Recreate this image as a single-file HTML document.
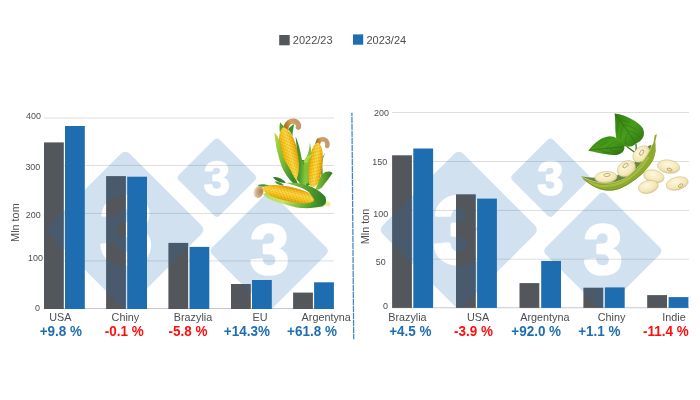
<!DOCTYPE html>
<html lang="pl">
<head>
<meta charset="utf-8">
<title>Kukurydza i soja 2022/23 - 2023/24</title>
<style>
html,body{margin:0;padding:0;background:#fff;}
body{width:700px;height:400px;overflow:hidden;}
svg{display:block;font-family:"Liberation Sans",Arial,sans-serif;}
</style>
</head>
<body>
<svg width="700" height="400" viewBox="0 0 700 400">
<defs>
<mask id="wmL" maskUnits="userSpaceOnUse" x="0" y="0" width="700" height="400">
<rect x="68.38" y="172.88" width="113.84" height="113.84" rx="6" transform="rotate(45 125.30 229.80)" fill="#fff"/>
<text x="126.30" y="263.40" font-size="95.4" font-weight="bold" text-anchor="middle" fill="#000" stroke="#000" stroke-width="3.55" stroke-linejoin="round">3</text>
<rect x="188.12" y="148.92" width="57.56" height="57.56" rx="4" transform="rotate(45 216.90 177.70)" fill="#fff"/>
<text x="216.90" y="194.63" font-size="47.2" font-weight="bold" text-anchor="middle" fill="#000" stroke="#000" stroke-width="1.75" stroke-linejoin="round">3</text>
<rect x="226.45" y="208.15" width="85.70" height="85.70" rx="5" transform="rotate(45 269.30 251.00)" fill="#fff"/>
<text x="269.60" y="273.73" font-size="70.3" font-weight="bold" text-anchor="middle" fill="#000" stroke="#000" stroke-width="2.61" stroke-linejoin="round">3</text>
</mask>
<mask id="wmR" maskUnits="userSpaceOnUse" x="0" y="0" width="700" height="400">
<rect x="401.88" y="172.88" width="113.84" height="113.84" rx="6" transform="rotate(45 458.80 229.80)" fill="#fff"/>
<text x="459.80" y="263.40" font-size="95.4" font-weight="bold" text-anchor="middle" fill="#000" stroke="#000" stroke-width="3.55" stroke-linejoin="round">3</text>
<rect x="521.62" y="148.92" width="57.56" height="57.56" rx="4" transform="rotate(45 550.40 177.70)" fill="#fff"/>
<text x="550.40" y="194.63" font-size="47.2" font-weight="bold" text-anchor="middle" fill="#000" stroke="#000" stroke-width="1.75" stroke-linejoin="round">3</text>
<rect x="559.95" y="208.15" width="85.70" height="85.70" rx="5" transform="rotate(45 602.80 251.00)" fill="#fff"/>
<text x="603.10" y="273.73" font-size="70.3" font-weight="bold" text-anchor="middle" fill="#000" stroke="#000" stroke-width="2.61" stroke-linejoin="round">3</text>
</mask>
</defs>
<rect width="700" height="400" fill="#fff"/>

<!-- legend -->
<rect x="279.2" y="35" width="10.5" height="10.3" fill="#53565a"/>
<text x="292.8" y="44" font-size="11" fill="#4b4d50">2022/23</text>
<rect x="353" y="34.4" width="10.2" height="10.3" fill="#1f6db1"/>
<text x="366.4" y="44" font-size="11" fill="#4b4d50">2023/24</text>

<!-- left chart gridlines -->
<g stroke="#dedede" stroke-width="1">
<line x1="44" x2="334" y1="118" y2="118"/>
<line x1="44" x2="334" y1="165.45" y2="165.45"/>
<line x1="44" x2="334" y1="213.45" y2="213.45"/>
<line x1="44" x2="334" y1="260.9" y2="260.9"/>
<line x1="44" x2="334" y1="308.5" y2="308.5" stroke="#c6c8ca"/>
</g>
<!-- right chart gridlines -->
<g stroke="#dedede" stroke-width="1">
<line x1="392" x2="689" y1="112.5" y2="112.5"/>
<line x1="392" x2="689" y1="161.5" y2="161.5"/>
<line x1="392" x2="689" y1="210.45" y2="210.45"/>
<line x1="392" x2="689" y1="259.2" y2="259.2"/>
<line x1="392" x2="689" y1="307.75" y2="307.75" stroke="#c6c8ca"/>
</g>

<!-- bars -->
<rect x="44.0" y="142.4" width="19.8" height="166.6" fill="#53565a"/>
<rect x="65.0" y="126.0" width="19.8" height="183.0" fill="#1f6db1"/>
<rect x="106.1" y="176.1" width="19.8" height="132.9" fill="#53565a"/>
<rect x="127.2" y="176.7" width="19.8" height="132.3" fill="#1f6db1"/>
<rect x="168.4" y="242.9" width="19.8" height="66.1" fill="#53565a"/>
<rect x="189.5" y="246.9" width="19.8" height="62.1" fill="#1f6db1"/>
<rect x="231.0" y="284.0" width="19.8" height="25.0" fill="#53565a"/>
<rect x="252.0" y="280.0" width="19.8" height="29.0" fill="#1f6db1"/>
<rect x="293.1" y="292.6" width="19.8" height="16.4" fill="#53565a"/>
<rect x="314.1" y="282.3" width="19.8" height="26.7" fill="#1f6db1"/>
<rect x="392.1" y="155.3" width="19.8" height="152.6" fill="#53565a"/>
<rect x="413.3" y="148.5" width="19.8" height="159.4" fill="#1f6db1"/>
<rect x="456.0" y="194.3" width="19.8" height="113.6" fill="#53565a"/>
<rect x="477.1" y="198.6" width="19.8" height="109.3" fill="#1f6db1"/>
<rect x="519.5" y="283.1" width="19.8" height="24.8" fill="#53565a"/>
<rect x="541.2" y="260.9" width="19.8" height="47.0" fill="#1f6db1"/>
<rect x="583.4" y="287.7" width="19.8" height="20.2" fill="#53565a"/>
<rect x="604.9" y="287.4" width="19.8" height="20.5" fill="#1f6db1"/>
<rect x="647.2" y="295.1" width="19.8" height="12.8" fill="#53565a"/>
<rect x="668.6" y="297.1" width="19.8" height="10.8" fill="#1f6db1"/>

<!-- watermark -->
<rect x="40" y="130" width="300" height="179" fill="#1f6db1" opacity="0.2" mask="url(#wmL)"/>
<rect x="373" y="130" width="300" height="178" fill="#1f6db1" opacity="0.2" mask="url(#wmR)"/>

<!-- divider -->
<line x1="351.9" y1="112.8" x2="353.7" y2="339.3" stroke="#3f86c8" stroke-width="1.25" stroke-dasharray="6.2 0.8" stroke-dashoffset="2.8"/>

<!-- y labels left -->
<g font-size="9.6" fill="#4b4d50" text-anchor="end">
<text transform="translate(40.9 119.1) scale(0.93 1)">400</text>
<text transform="translate(40.3 169.9) scale(0.93 1)">300</text>
<text transform="translate(40.7 218.1) scale(0.93 1)">200</text>
<text transform="translate(42.9 261.2) scale(0.93 1)">100</text>
<text transform="translate(40 310.8) scale(0.93 1)">0</text>
</g>
<!-- y labels right -->
<g font-size="9.6" fill="#4b4d50" text-anchor="end">
<text transform="translate(389 115.9) scale(0.93 1)">200</text>
<text transform="translate(387.2 165.1) scale(0.93 1)">150</text>
<text transform="translate(388.2 217.1) scale(0.93 1)">100</text>
<text transform="translate(385.6 265.1) scale(0.93 1)">50</text>
<text transform="translate(388 308.8) scale(0.93 1)">0</text>
</g>
<text transform="translate(19.2 222.6) rotate(-90) scale(0.92 1)" font-size="11.8" fill="#4b4d50" text-anchor="middle">Mln tom</text>
<text transform="translate(369.0 226.4) rotate(-90) scale(0.92 1)" font-size="11.8" fill="#4b4d50" text-anchor="middle">Mln ton</text>

<!-- x labels left -->
<g font-size="10.8" fill="#4b4d50" text-anchor="middle">
<text x="60.4" y="320.8">USA</text>
<text x="125.4" y="320.8">Chiny</text>
<text x="193" y="320.8">Brazylia</text>
<text x="260" y="320.8">EU</text>
<text x="326.2" y="320.8">Argentyna</text>
<text x="407.4" y="320.6">Brazylia</text>
<text x="478" y="320.6">USA</text>
<text x="544.8" y="320.6">Argentyna</text>
<text x="611.6" y="320.6">Chiny</text>
<text x="674" y="320.6">Indie</text>
</g>
<g font-size="14.2" font-weight="bold" text-anchor="middle">
<text transform="translate(60.8 335.9) scale(0.95 1)" fill="#1f6db1">+9.8 %</text>
<text transform="translate(124.3 335.9) scale(0.95 1)" fill="#ff0d0d">-0.1 %</text>
<text transform="translate(188 335.9) scale(0.95 1)" fill="#ff0d0d">-5.8 %</text>
<text transform="translate(246.9 335.9) scale(0.95 1)" fill="#1f6db1">+14.3%</text>
<text transform="translate(312 335.9) scale(0.95 1)" fill="#1f6db1">+61.8 %</text>
<text transform="translate(410.3 335.9) scale(0.95 1)" fill="#1f6db1">+4.5 %</text>
<text transform="translate(473.5 335.9) scale(0.95 1)" fill="#ff0d0d">-3.9 %</text>
<text transform="translate(536.2 335.9) scale(0.95 1)" fill="#1f6db1">+92.0 %</text>
<text transform="translate(599.3 335.9) scale(0.95 1)" fill="#1f6db1">+1.1 %</text>
<text transform="translate(665.8 335.9) scale(0.95 1)" fill="#ff0d0d">-11.4 %</text>
</g>
<defs>
<linearGradient id="cobY" x1="0" x2="1" y1="0" y2="0">
<stop offset="0" stop-color="#e39b00"/><stop offset="0.28" stop-color="#fdc914"/><stop offset="0.55" stop-color="#ffe04a"/><stop offset="0.8" stop-color="#f9be0d"/><stop offset="1" stop-color="#d98f00"/>
</linearGradient>
<pattern id="kern" width="1.7" height="1.45" patternUnits="userSpaceOnUse">
<rect x="0" y="0" width="1.7" height="0.4" fill="#b87400" opacity="0.38"/>
<rect x="0" y="0" width="0.35" height="1.45" fill="#b87400" opacity="0.3"/>
<rect x="0.7" y="0.7" width="0.6" height="0.45" fill="#fff6b0" opacity="0.55"/>
</pattern>
<linearGradient id="lfA" x1="0" x2="1" y1="0" y2="0.6">
<stop offset="0" stop-color="#b9dc48"/><stop offset="0.5" stop-color="#79bb33"/><stop offset="1" stop-color="#37882a"/>
</linearGradient>
<linearGradient id="lfB" x1="0" x2="1" y1="0" y2="0">
<stop offset="0" stop-color="#8cc63a"/><stop offset="1" stop-color="#2c7a23"/>
</linearGradient>
<linearGradient id="lfC" x1="0" x2="0" y1="0" y2="1">
<stop offset="0" stop-color="#55a22b"/><stop offset="1" stop-color="#c6e25e"/>
</linearGradient>
<linearGradient id="lfD" x1="0" x2="1" y1="0" y2="0.3">
<stop offset="0" stop-color="#2f8527"/><stop offset="0.55" stop-color="#4c9e2b"/><stop offset="1" stop-color="#86c63c"/>
</linearGradient>
<linearGradient id="silk" x1="0" x2="1" y1="0.6" y2="0.4">
<stop offset="0" stop-color="#b5732a"/><stop offset="0.45" stop-color="#d2a25a"/><stop offset="1" stop-color="#c09a70"/>
</linearGradient>
<radialGradient id="silk3" cx="0.75" cy="0.4" r="0.8">
<stop offset="0" stop-color="#b58449"/><stop offset="0.6" stop-color="#cfae84"/><stop offset="1" stop-color="#eee0ca"/>
</radialGradient>
<linearGradient id="lfE" x1="0" x2="1" y1="0" y2="0.25">
<stop offset="0" stop-color="#b4d94c"/><stop offset="0.45" stop-color="#c9e466"/><stop offset="0.8" stop-color="#6fb531"/><stop offset="1" stop-color="#3d9029"/>
</linearGradient>
</defs>
<g id="corn">
<!-- right cob: back leaves -->
<path d="M332.6,172.9 C329.6,170.6 325.6,171 322.9,173.5 C320.6,176 319.6,178.4 318.6,181 C317.6,184 316.6,187 315,189.6 C318.4,190.4 321,188.6 322.9,186.2 C324.6,184 326,182 327.7,180.1 C329.4,177.6 331,175 332.6,172.9 Z" fill="url(#lfB)"/>
<path d="M325.3,153 C323.4,156.4 322.2,160.4 321.9,165 C322.9,169 323,173 322.2,177 C319.8,172 319.4,165.6 320,160 Z" fill="#4c9e2b"/>
<path d="M318.1,137.4 C316.2,139.8 315.2,142.6 315,145.6 L320,143.6 C319.4,141.2 318.8,139.2 318.1,137.4 Z" fill="#58a82d"/>
<!-- silk right cob -->
<path d="M318,143 C319,140 321.6,138.8 324,139.4 C326.8,140.4 328,143 327.2,146" fill="none" stroke="url(#silk)" stroke-width="4.6" stroke-linecap="round"/>
<path d="M299.6,160 C302.6,168 305,176 306,186.4 L310,185 C309.4,176 308,168 306.6,160 Z" fill="#3a8e27"/>
<!-- right cob -->
<g transform="translate(318 142.4) rotate(6.7)">
<path id="cobR" d="M0,0 C5.4,2.4 7,13.2 7,24.2 C7,36 4.6,45 0,45 C-4.6,45 -7,36 -7,24.2 C-7,13.2 -5.4,2.4 0,0 Z" fill="url(#cobY)"/>
<path d="M0,0 C5.4,2.4 7,13.2 7,24.2 C7,36 4.6,45 0,45 C-4.6,45 -7,36 -7,24.2 C-7,13.2 -5.4,2.4 0,0 Z" fill="url(#kern)"/>
</g>
<path d="M309.8,142.6 C309.8,148 308.4,153 306.6,157 C303.6,163 301.6,170 302.2,178 C303.8,184 307.6,185.4 309.4,181.4 C308,172 308.8,163 310.8,156 C311.4,151 310.8,146 309.8,142.6 Z" fill="#82c037"/>
<!-- left cob back leaves -->
<path d="M280.2,122.2 C279.2,126 279.4,129.6 280,133 C282,131.6 283.6,129.4 284.6,127 C283,125.4 281.4,123.8 280.2,122.2 Z" fill="#55a52c"/>
<path d="M294.3,124 C291.2,125.6 289.2,127.6 288,129.6 C290.2,131.6 291.6,134 292.4,136.6 C292.6,132 293.4,127.6 294.3,124 Z" fill="#3f9428"/>
<!-- silk left cob -->
<path d="M285.8,127.8 C287,122.8 290.6,120.6 294.2,121.2 C297.6,122 299,124.6 298.4,127.2" fill="none" stroke="url(#silk)" stroke-width="5.4" stroke-linecap="round"/>
<!-- left cob -->
<g transform="translate(283.2 127.2) rotate(-13.5)">
<path d="M0,0 C6.8,3 8.8,16.5 8.8,30.3 C8.8,45 5.6,56 0,56 C-5.6,56 -8.8,45 -8.8,30.3 C-8.8,16.5 -6.8,3 0,0 Z" fill="url(#cobY)"/>
<path d="M0,0 C6.8,3 8.8,16.5 8.8,30.3 C8.8,45 5.6,56 0,56 C-5.6,56 -8.8,45 -8.8,30.3 C-8.8,16.5 -6.8,3 0,0 Z" fill="url(#kern)"/>
</g>
<!-- big leaf between cobs -->
<path d="M295.6,136.8 C298.2,142 300.4,151 301.8,159 C303.4,166 305.6,172 306.8,178 C307.6,182 306.4,185.4 303.4,186 C300,184.6 298,181.4 296.8,178.6 C299.6,172 299.4,163 297.8,154 C296.8,148 296,142 295.6,136.8 Z" fill="url(#lfD)"/>
<path d="M303.2,162.6 C304.8,157 308.8,154.2 313.2,154.4 C310.4,156.6 308.4,159.4 307.4,163 Z" fill="#a8d84a"/>
<!-- left cob front-left leaf -->
<path d="M274.3,132.4 C274.8,136 275,139 275.5,142 C276,146 276.6,149 277.5,152 L279,158 C279.8,161 280.6,163.6 281.5,166 C282.6,168.6 283.8,171 285,173 C286.6,175.6 288.2,178 290,180 C291.8,182.2 293.8,184 296,185.5 C297.6,185 298,183.6 297.5,182.5 C296.4,180.6 295.2,178.8 294,177 C292.8,174.8 291.6,172.4 290.5,170 C289.2,168 288,166 287,164 L283.2,158 C282.6,155.4 282,152.6 281.5,150 C281,147 280.4,144 279.5,141 C278.4,137.6 276.6,134.6 274.3,132.4 Z" fill="url(#lfA)"/>
<!-- small dark leaves left -->
<path d="M273,177.2 C277,176.2 282,178.2 286,182.8 C281,183.4 276,181.4 273,177.2 Z" fill="#2f7d24"/>
<path d="M274.6,181.6 C278,181.2 281.4,182.8 284,185.2 C280,186 277,184.6 274.6,181.6 Z" fill="#43942a"/>
<!-- bottom cob -->
<path d="M262.8,194 C268,199.6 275.6,202 282.1,203.5 C288.4,205.6 295,207.5 301.4,208 C309,208.5 317,207.7 323.3,206.3 C325,204.6 325.6,202.4 325.2,200.4 L313,196 L275,190 Z" fill="url(#lfE)"/>
<ellipse cx="258.6" cy="192" rx="4.7" ry="6.2" transform="rotate(20 258.6 192)" fill="url(#silk3)"/>
<path d="M257.4,185.2 C261,183.8 265.4,184 270,185.8 C265.6,187.2 261.4,187.2 257.4,185.2 Z" fill="#4a9b2a"/>
<g transform="translate(262.4 188.2) rotate(-77.8)">
<path d="M0,0 C5.4,2.8 7.2,15.6 7.2,28.6 C7.2,42.5 4.6,53 0,53 C-4.6,53 -7.2,42.5 -7.2,28.6 C-7.2,15.6 -5.4,2.8 0,0 Z" fill="url(#cobY)"/>
<path d="M0,0 C5.4,2.8 7.2,15.6 7.2,28.6 C7.2,42.5 4.6,53 0,53 C-4.6,53 -7.2,42.5 -7.2,28.6 C-7.2,15.6 -5.4,2.8 0,0 Z" fill="url(#kern)"/>
</g>
<path d="M323.4,200.2 L329.4,201.8 C331.2,203.2 330.8,205.6 329,206.4 L323.4,205.8 Z" fill="#f0ec9c"/>
<path d="M286,183 C291,182.6 297,182.8 301.4,183.7 C306,184.8 310.6,186.2 314.3,188.2 C319,190.8 323,193.6 325.2,196.6 C326.2,198.6 326.4,201.6 325.4,204 C323,206.6 319,205 316.8,202.6 C315,201 313.8,199.6 313,197.8 C311.6,195.2 310,193 307.8,191.4 C304,188.8 299.6,187 295,185.6 C292,184.6 289,183.8 286,183 Z" fill="url(#lfB)"/>
</g>

<defs>
<radialGradient id="bean" cx="0.45" cy="0.35" r="0.75">
<stop offset="0" stop-color="#fdf8dc"/><stop offset="0.6" stop-color="#f3e8b9"/><stop offset="1" stop-color="#d6c284"/>
</radialGradient>
<linearGradient id="leafS" x1="0" x2="1" y1="0" y2="1">
<stop offset="0" stop-color="#2f7c12"/><stop offset="0.5" stop-color="#4a9d1b"/><stop offset="1" stop-color="#2a6f10"/>
</linearGradient>
<linearGradient id="pod" x1="0" x2="0.4" y1="0" y2="1">
<stop offset="0" stop-color="#bccb62"/><stop offset="0.45" stop-color="#94ae31"/><stop offset="1" stop-color="#708e20"/>
</linearGradient>
</defs>
<g id="soy">
<!-- stems -->
<path d="M635.9,143.6 C636.6,146.6 636.2,149.6 635.3,152.4" fill="none" stroke="#2f7a12" stroke-width="1.3"/>
<path d="M626.9,146.4 C629.6,148.6 632.4,150.6 634.8,152.4" fill="none" stroke="#2f7a12" stroke-width="1.3"/>
<!-- big leaf -->
<path d="M614.7,113.4 C621,114 627,116.4 631.4,118.9 C637,122 641.4,125.4 643,128.6 C644.4,132 644.2,135.4 643,137.6 C641,141 638.4,142.6 635.9,143.4 C633.6,145.6 631.4,146.6 628.8,146.6 C625,146.8 621.6,146 619.8,144.6 C617.2,142 616.2,139.4 616,136.3 C615.4,132 615.2,128 615.3,124.7 C615.2,121 615,117 614.7,113.4 Z" fill="url(#leafS)"/>
<path d="M614.9,113.8 C621,122 629,133 635.8,143.2" fill="none" stroke="#2a6d10" stroke-width="0.7"/>
<!-- small leaf -->
<path d="M588.4,150.4 C591.6,146.4 595,143 599.3,140.1 C602.6,138 606,136.6 609.6,136.3 C612.4,136.2 614.8,137 616.6,138.2 C619.6,140.4 623,143.4 624.3,146.6 C624.6,148.6 624,150.4 623,151.7 C621,153.8 618.6,154.8 616,154.9 C610,155.2 604.6,154.2 599.3,153 C595.4,152.2 591.6,151.2 588.4,150.4 Z" fill="url(#leafS)"/>
<path d="M588.8,150.3 C600,149 612,147.6 623.8,146.8" fill="none" stroke="#2a6d10" stroke-width="0.7"/>
<g fill="none" stroke="#2a6d10" stroke-width="0.5" opacity="0.8">
<path d="M619,119.6 C622,120 626,121 629.6,122.6"/><path d="M622.6,124.6 C627,125 632,127 636.6,130"/><path d="M626.6,130.4 C631,131 636,133.4 640,137"/>
<path d="M619,119.6 C618,123 617.4,127 617.4,131"/><path d="M623.4,126 C621.4,130 620.4,134.6 620.6,139"/><path d="M628,132.6 C626,136 625,140 625.4,144"/>
<path d="M597,149.4 C600,146 604,143.4 608,141.6"/><path d="M606,148.4 C609,145 613,142.4 617,141"/>
<path d="M599,149.2 C602,151 606,152.4 610,153"/><path d="M609,148 C612,150.4 615.6,152 619,152.6"/>
</g>
<!-- pod back (inner) -->
<path d="M581,176.3 C586,177.4 592,177.8 598,177.6 C606,177.2 611,177.4 616,176 C622,173 627.4,169.4 631.6,165.7 C636.4,161 640.4,155.6 643.6,150.3 C646,147.6 648.4,146 650.4,145.1 C652.4,146.4 654.4,148 655.6,150.3 C655,155 652,160.6 648,166 C640,176 628,184 614,187 C602,188.6 590,184 581,176.3 Z" fill="#67873a"/>
<!-- beans in pod -->
<ellipse cx="641.4" cy="154.1" rx="9.6" ry="7" transform="rotate(-42 641.4 154.1)" fill="url(#bean)" stroke="#c9b375" stroke-width="0.5"/>
<ellipse cx="626.4" cy="168.7" rx="9.8" ry="7.4" transform="rotate(-32 626.4 168.7)" fill="url(#bean)" stroke="#c9b375" stroke-width="0.5"/>
<ellipse cx="605.9" cy="177.2" rx="11.2" ry="5.7" transform="rotate(-4 605.9 177.2)" fill="url(#bean)" stroke="#c9b375" stroke-width="0.5"/>
<ellipse cx="641.6" cy="152.6" rx="3" ry="1.6" transform="rotate(-60 641.6 152.6)" fill="none" stroke="#a98f5a" stroke-width="0.7"/>
<ellipse cx="625.4" cy="165.6" rx="3" ry="1.7" transform="rotate(-35 625.4 165.6)" fill="none" stroke="#a98f5a" stroke-width="0.7"/>
<ellipse cx="607" cy="175" rx="3.2" ry="1.5" transform="rotate(-5 607 175)" fill="none" stroke="#a98f5a" stroke-width="0.7"/>
<!-- pod front -->
<path d="M581,176.3 C584.6,180 588.4,183 592.1,185.4 C597.6,188.6 603.4,190.6 609.3,190.6 C615.4,190.4 621,188.4 626.4,185.4 C633,181.6 638.6,177.4 643.6,172.6 C647.6,168.6 650.6,164.6 653,160.6 C654.6,157 655.4,153.6 655.6,150.3 C655.8,147 655.6,144 655.3,141.6 L656.9,134.3 L654.7,135.2 L653.3,143.6 C653,144.2 652.6,144.6 652.1,145.1 C650.8,148.6 649,152 647,155.4 C644,160.2 640.4,164.4 636.7,168.3 C633,172.2 629,175.8 624.7,178.6 C619,181.6 613,183.2 606,183.2 C597,183.2 589,180.4 581,176.3 Z" fill="#8fa92e"/>
<path d="M590,182.6 C598,187 610,187.6 622,182.6 C632,177.6 641,169 648,158" fill="none" stroke="#a9c145" stroke-width="2.2" stroke-linecap="round" opacity="0.85"/>
<path d="M581,176.3 C589,180.4 597,183.2 606,183.2 C613,183.2 619,181.6 624.7,178.6 C629,175.8 633,172.2 636.7,168.3 C640.4,164.4 644,160.2 647,155.4 C649,152 650.8,148.6 652.1,145.1" fill="none" stroke="#c6d47a" stroke-width="0.8"/>
<path d="M583,178.6 C588,183 594,186.8 600,188.8 C606,190.8 613,190.6 619,188.6 C628,185 637,178.6 644,171.6" fill="none" stroke="#6d8b1d" stroke-width="1" opacity="0.8"/>
<!-- loose beans -->
<ellipse cx="668.6" cy="166.6" rx="11.2" ry="6.6" transform="rotate(10 668.6 166.6)" fill="url(#bean)" stroke="#c9b375" stroke-width="0.5"/>
<ellipse cx="653.9" cy="176.4" rx="10.4" ry="6.3" transform="rotate(14 653.9 176.4)" fill="url(#bean)" stroke="#c9b375" stroke-width="0.5"/>
<ellipse cx="648.3" cy="186.9" rx="10.1" ry="6.3" transform="rotate(-14 648.3 186.9)" fill="url(#bean)" stroke="#c9b375" stroke-width="0.5"/>
<ellipse cx="677.2" cy="183.5" rx="11.2" ry="6.4" transform="rotate(-14 677.2 183.5)" fill="url(#bean)" stroke="#c9b375" stroke-width="0.5"/>
<ellipse cx="669.6" cy="169.6" rx="2.6" ry="1.2" transform="rotate(20 669.6 169.6)" fill="none" stroke="#a98f5a" stroke-width="0.7"/>
<ellipse cx="680.6" cy="185.6" rx="2.4" ry="1.4" transform="rotate(-30 680.6 185.6)" fill="none" stroke="#a98f5a" stroke-width="0.7"/>
</g>

</svg>
</body>
</html>
